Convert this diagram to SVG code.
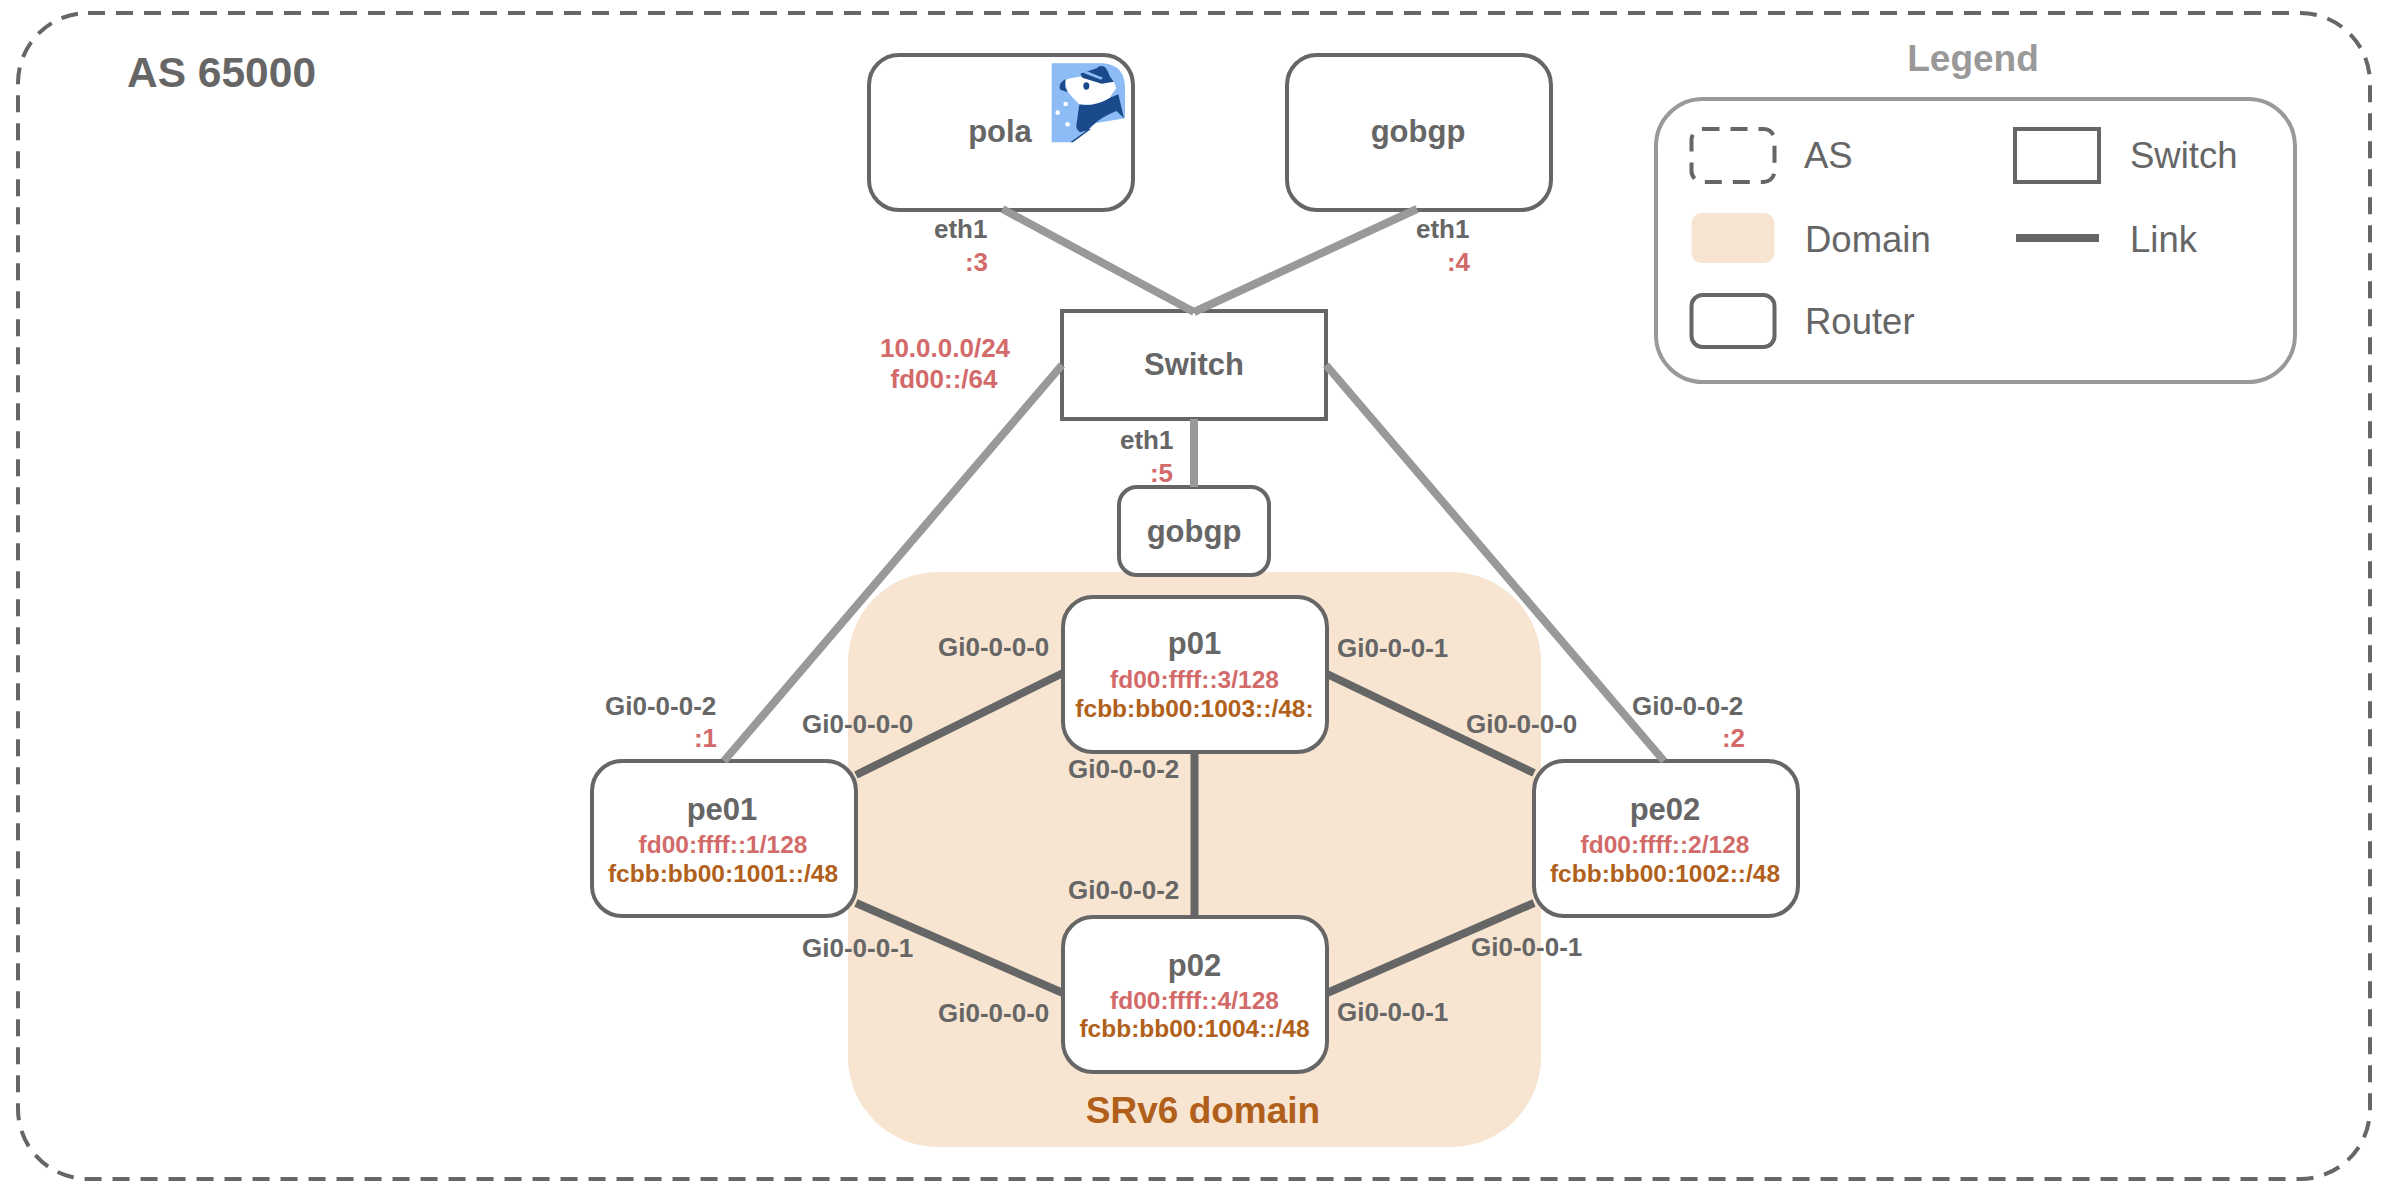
<svg xmlns="http://www.w3.org/2000/svg" width="2386" height="1192" viewBox="0 0 2386 1192">
<style>
text{font-family:"Liberation Sans",Arial,sans-serif}
.b{font-weight:700;fill:#666666}
.node{fill:#ffffff;stroke:#666666;stroke-width:4}
.name{font-size:31px;text-anchor:middle}
.port{font-size:26px}
.end{text-anchor:end}
.mid{text-anchor:middle}
.red{font-weight:700;fill:#d36a6a}
.ora{font-weight:700;fill:#b0601a}
.addr{font-size:24.5px;text-anchor:middle}
.leg{font-size:36.5px;fill:#666666}
.gl{stroke:#999999;stroke-width:8;fill:none}
.dl{stroke:#666666;stroke-width:8;fill:none}
.dash{fill:none;stroke:#666666;stroke-width:4;stroke-dasharray:17 11}
</style>
<rect width="2386" height="1192" fill="#ffffff"/>
<g id="as-65000">
<rect class="dash" x="18" y="13" width="2352" height="1166" rx="70" ry="70"/>
<text class="b" x="127" y="87" font-size="42.5">AS 65000</text>
</g>
<g id="srv6-domain">
<rect x="848" y="572" width="693" height="575" rx="90" ry="90" fill="#f7e5d1"/>
<text class="ora" x="1203" y="1123" font-size="37" text-anchor="middle">SRv6 domain</text>
</g>
<g id="pola">
<rect class="node" x="869" y="55" width="264" height="155" rx="30" ry="30"/>
<text class="b name" x="1000" y="142">pola</text>
<g transform="translate(1045 55) scale(.3333)">
<path d="M20 25H175Q240 30 240 100V190L150 205L78 262H20Z" fill="#8dbbf5"/>
<path d="M241 132V195L150 210L84 263H130L150 222L241 195Z" fill="#ffffff"/>
<path d="M103 148Q150 155 195 128L220 118L237 190L215 168Q170 185 142 212L128 226L105 232Q90 222 95 205Z" fill="#1b4a8c"/>
<path d="M130 222L76 262H84L138 222Z" fill="#1b4a8c"/>
<path d="M58 75Q110 58 140 68Q180 84 205 75L214 100Q200 118 195 128Q150 155 103 148Q85 130 68 110Z" fill="#ffffff"/>
<path d="M62 72Q38 85 46 104L68 112L60 95Z" fill="#1b4a8c"/>
<path d="M106 56L155 40Q165 28 180 36Q190 48 195 65L207 80L170 86L112 68Z" fill="#1b4a8c"/>
<path d="M116 54L168 74L174 68L124 48Z" fill="#8dbbf5"/>
<ellipse cx="124" cy="93" rx="9" ry="11" fill="#1b4a8c"/>
<circle cx="62" cy="147" r="7" fill="#ffffff"/>
<circle cx="38" cy="173" r="7" fill="#ffffff"/>
<circle cx="68" cy="208" r="7" fill="#ffffff"/>
</g>
</g>
<g id="gobgp-top">
<rect class="node" x="1287" y="55" width="264" height="155" rx="30" ry="30"/>
<text class="b name" x="1418" y="142">gobgp</text>
</g>
<g id="switch">
<rect class="node" x="1062" y="311" width="264" height="108"/>
<text class="b name" x="1194" y="375">Switch</text>
</g>
<g id="gobgp-bottom">
<rect class="node" x="1119" y="487" width="150" height="88" rx="18" ry="18"/>
<text class="b name" x="1194" y="542">gobgp</text>
</g>
<g id="p01">
<rect class="node" x="1063" y="597" width="264" height="155" rx="30" ry="30"/>
<text class="b name" x="1194.500" y="654">p01</text>
<text class="red addr" x="1194.500" y="688">fd00:ffff::3/128</text>
<text class="ora addr" x="1194.500" y="717">fcbb:bb00:1003::/48:</text>
</g>
<g id="p02">
<rect class="node" x="1063" y="917" width="264" height="155" rx="30" ry="30"/>
<text class="b name" x="1194.500" y="976">p02</text>
<text class="red addr" x="1194.500" y="1009">fd00:ffff::4/128</text>
<text class="ora addr" x="1194.500" y="1037">fcbb:bb00:1004::/48</text>
</g>
<g id="pe01">
<rect class="node" x="592" y="761" width="264" height="155" rx="30" ry="30"/>
<text class="b name" x="722" y="820">pe01</text>
<text class="red addr" x="723" y="853">fd00:ffff::1/128</text>
<text class="ora addr" x="723" y="882">fcbb:bb00:1001::/48</text>
</g>
<g id="pe02">
<rect class="node" x="1534" y="761" width="264" height="155" rx="30" ry="30"/>
<text class="b name" x="1665" y="820">pe02</text>
<text class="red addr" x="1665" y="853">fd00:ffff::2/128</text>
<text class="ora addr" x="1665" y="882">fcbb:bb00:1002::/48</text>
</g>
<g id="connectors">
<path class="gl" d="M1002.500 209L1194 312"/>
<path class="gl" d="M1417 209L1194 312"/>
<path class="gl" d="M1062 365L724 761"/>
<path class="gl" d="M1326 365L1664 761"/>
<path class="gl" d="M1194 419V487"/>
<path class="dl" d="M856 775L1063 673"/>
<path class="dl" d="M1327 674L1534 773"/>
<path class="dl" d="M1194.500 752V917"/>
<path class="dl" d="M856 903L1063 993"/>
<path class="dl" d="M1534 903L1327 993"/>
</g>
<g id="labels">
<text class="b port" x="934" y="238">eth1</text>
<text class="red port end" x="988" y="271">:3</text>
<text class="b port" x="1416" y="238">eth1</text>
<text class="red port end" x="1470" y="271">:4</text>
<text class="red port mid" x="945" y="357">10.0.0.0/24</text>
<text class="red port mid" x="944" y="388">fd00::/64</text>
<text class="b port" x="1120" y="449">eth1</text>
<text class="red port end" x="1173" y="482">:5</text>
<text class="b port" x="605" y="715">Gi0-0-0-2</text>
<text class="red port end" x="717" y="747">:1</text>
<text class="b port" x="1632" y="715">Gi0-0-0-2</text>
<text class="red port end" x="1745" y="747">:2</text>
<text class="b port" x="938" y="656">Gi0-0-0-0</text>
<text class="b port" x="802" y="733">Gi0-0-0-0</text>
<text class="b port" x="1337" y="657">Gi0-0-0-1</text>
<text class="b port" x="1466" y="733">Gi0-0-0-0</text>
<text class="b port" x="1068" y="778">Gi0-0-0-2</text>
<text class="b port" x="1068" y="899">Gi0-0-0-2</text>
<text class="b port" x="802" y="957">Gi0-0-0-1</text>
<text class="b port" x="938" y="1022">Gi0-0-0-0</text>
<text class="b port" x="1471" y="956">Gi0-0-0-1</text>
<text class="b port" x="1337" y="1021">Gi0-0-0-1</text>
</g>
<g id="legend">
<text x="1973" y="71" font-size="37" font-weight="700" fill="#999999" text-anchor="middle">Legend</text>
<rect x="1656" y="99" width="639" height="283" rx="47" ry="47" fill="none" stroke="#999999" stroke-width="4"/>
<rect class="dash" x="1691.500" y="129" width="83" height="53" rx="11" ry="11"/>
<text class="leg" x="1804" y="168">AS</text>
<rect x="1691.500" y="213" width="83" height="50" rx="10" ry="10" fill="#f7e5d1"/>
<text class="leg" x="1805" y="252">Domain</text>
<rect class="node" x="1691.500" y="295" width="83" height="52" rx="11" ry="11"/>
<text class="leg" x="1805" y="334">Router</text>
<rect class="node" x="2015" y="129" width="84" height="53"/>
<text class="leg" x="2130" y="168">Switch</text>
<path class="dl" d="M2016 238H2099"/>
<text class="leg" x="2130" y="252">Link</text>
</g>
</svg>
